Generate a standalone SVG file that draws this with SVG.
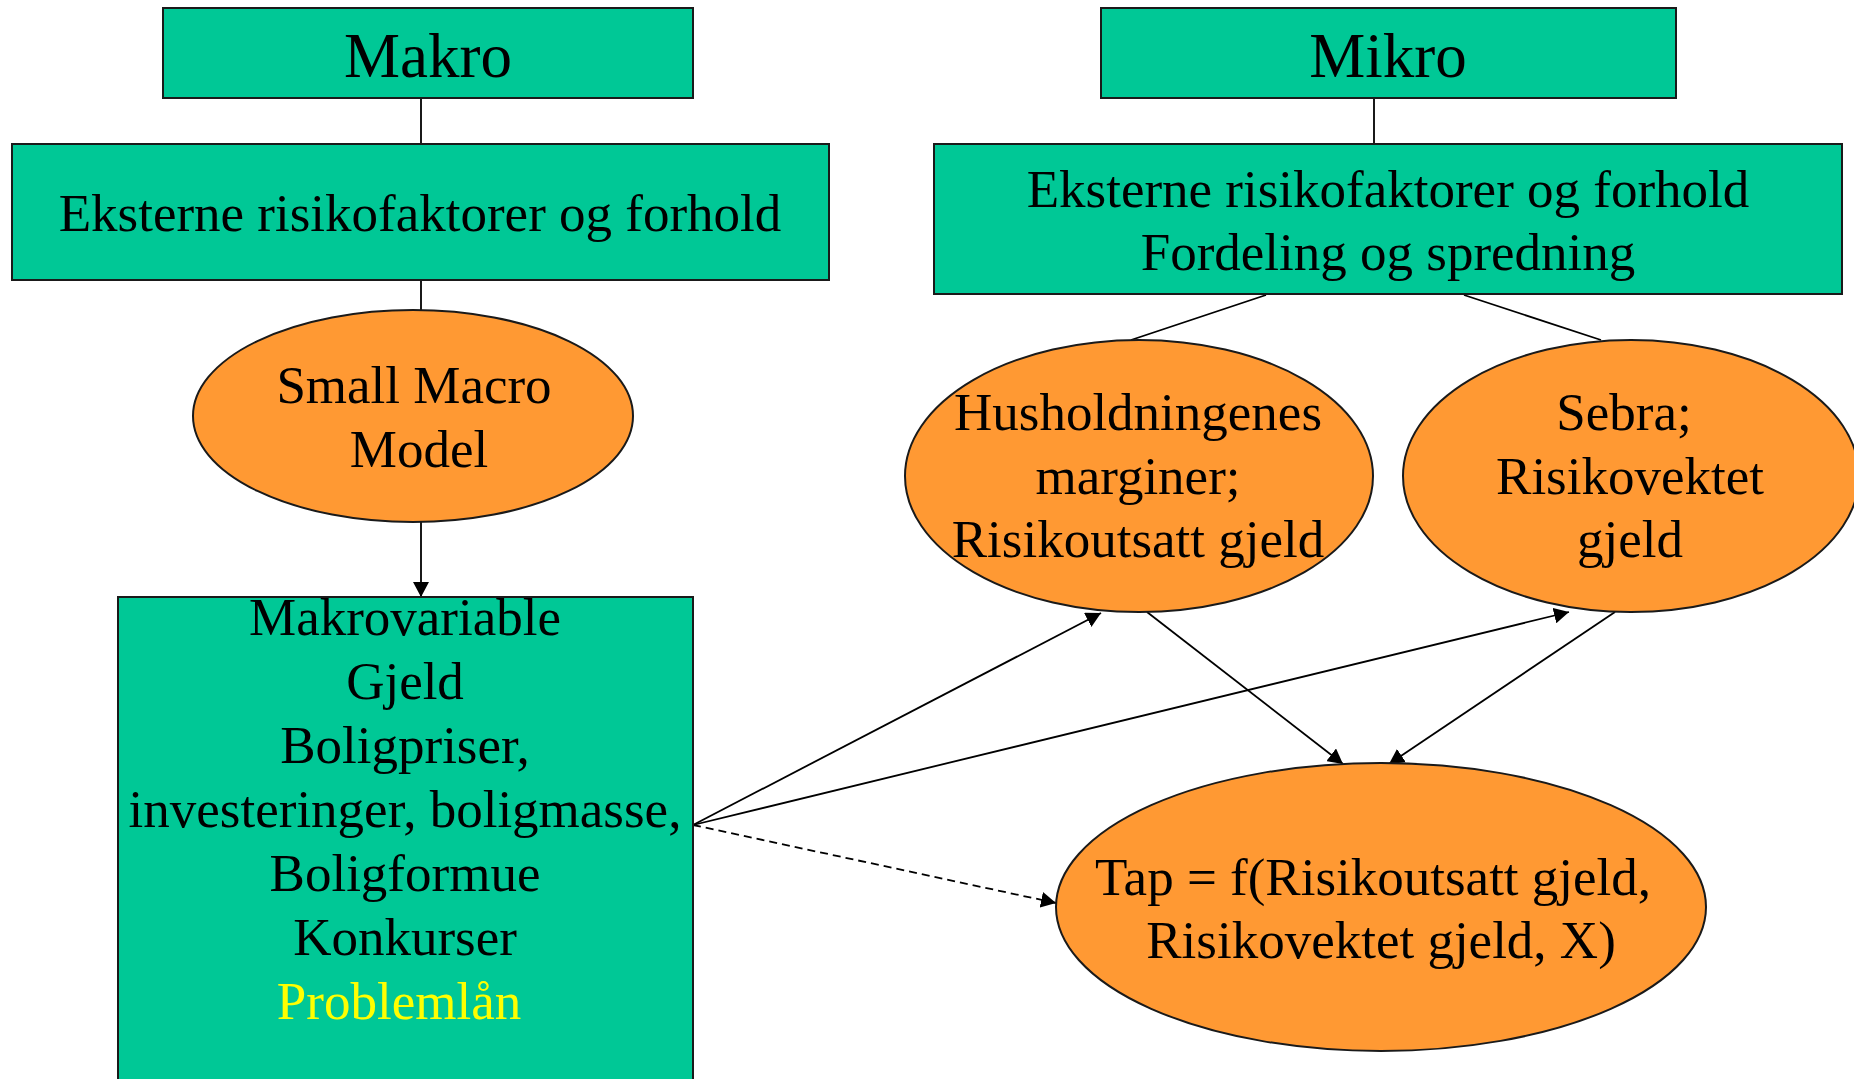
<svg xmlns="http://www.w3.org/2000/svg" width="1854" height="1079" viewBox="0 0 1854 1079">
<style>
.box{fill:#00C896;stroke:#1a1a1a;stroke-width:2}
.ell{fill:#FF9933;stroke:#1a1a1a;stroke-width:2}
.t{font-family:"Liberation Serif","Times New Roman",serif;font-size:53px;fill:#000;text-anchor:middle}
.h{font-size:63px}
.y{fill:#FFFF00}
.ln{stroke:#000;stroke-width:1.8;fill:none}
.ar{marker-end:url(#ah)}
.d{stroke-dasharray:8 5}
</style>
<defs>
<marker id="ah" viewBox="0 0 15 16" refX="15" refY="8" markerWidth="15" markerHeight="16" markerUnits="userSpaceOnUse" orient="auto">
<path d="M0,0 L15,8 L0,16 Z" fill="#000"/>
</marker>
</defs>
<g id="connectors">
<line class="ln" x1="421" y1="98" x2="421" y2="144"/>
<line class="ln" x1="1374" y1="98" x2="1374" y2="144"/>
<line class="ln" x1="421" y1="280" x2="421" y2="310"/>
<line class="ln ar" x1="421" y1="522" x2="421" y2="597"/>
<line class="ln" x1="1266" y1="295" x2="1131" y2="340"/>
<line class="ln" x1="1464" y1="295" x2="1601" y2="340"/>
<line class="ln ar" x1="693" y1="825" x2="1101" y2="613"/>
<line class="ln ar" x1="693" y1="825" x2="1569" y2="612"/>
<line class="ln ar d" x1="693" y1="825" x2="1056" y2="903"/>
<line class="ln ar" x1="1147" y1="612" x2="1343" y2="764"/>
<line class="ln ar" x1="1615" y1="612" x2="1389" y2="764"/>
</g>
<g id="makro">
<rect class="box" x="163" y="8" width="530" height="90"/>
<text class="t h" x="428" y="77">Makro</text>
</g>
<g id="mikro">
<rect class="box" x="1101" y="8" width="575" height="90"/>
<text class="t h" x="1388" y="77">Mikro</text>
</g>
<g id="eksterne-makro">
<rect class="box" x="12" y="144" width="817" height="136"/>
<text class="t" x="420" y="231">Eksterne risikofaktorer og forhold</text>
</g>
<g id="eksterne-mikro">
<rect class="box" x="934" y="144" width="908" height="150"/>
<text class="t" x="1388" y="207">Eksterne risikofaktorer og forhold</text>
<text class="t" x="1388" y="270">Fordeling og spredning</text>
</g>
<g id="small-macro-model">
<ellipse class="ell" cx="413" cy="416" rx="220" ry="106"/>
<text class="t" x="414" y="403">Small Macro</text>
<text class="t" x="419" y="467">Model</text>
</g>
<g id="makrovariable">
<rect class="box" x="118" y="597" width="575" height="520"/>
<text class="t" x="405" y="635">Makrovariable</text>
<text class="t" x="405" y="699">Gjeld</text>
<text class="t" x="405" y="763">Boligpriser,</text>
<text class="t" x="405" y="827">investeringer, boligmasse,</text>
<text class="t" x="405" y="891">Boligformue</text>
<text class="t" x="405" y="955">Konkurser</text>
<text class="t y" x="399" y="1019">Problemlån</text>
</g>
<g id="husholdningene">
<ellipse class="ell" cx="1139" cy="476" rx="234" ry="136"/>
<text class="t" x="1138" y="430">Husholdningenes</text>
<text class="t" x="1138" y="494">marginer;</text>
<text class="t" x="1138" y="557">Risikoutsatt gjeld</text>
</g>
<g id="sebra">
<ellipse class="ell" cx="1631" cy="476" rx="228" ry="136"/>
<text class="t" x="1624" y="430">Sebra;</text>
<text class="t" x="1630" y="494">Risikovektet</text>
<text class="t" x="1630" y="557">gjeld</text>
</g>
<g id="tap">
<ellipse class="ell" cx="1381" cy="907" rx="325" ry="144"/>
<text class="t" x="1373" y="895">Tap = f(Risikoutsatt gjeld,</text>
<text class="t" x="1381" y="958">Risikovektet gjeld, X)</text>
</g>
</svg>
